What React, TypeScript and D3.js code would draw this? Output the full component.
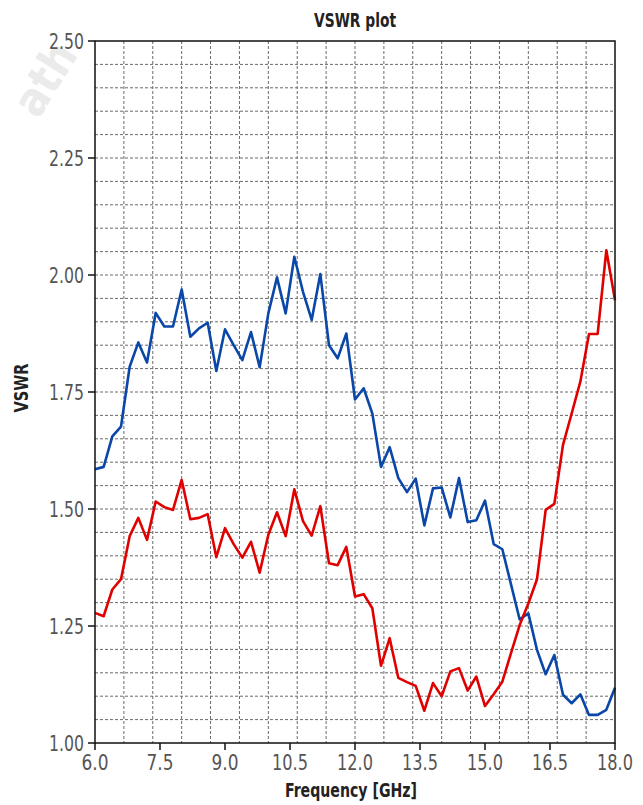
import React from 'react'
import * as d3 from 'd3'

// sweep points in GHz
const freqs = [
  6.0, 6.2, 6.4, 6.6, 6.8, 7.0, 7.2, 7.4, 7.6, 7.8,
  8.0, 8.2, 8.4, 8.6, 8.8, 9.0, 9.2, 9.4, 9.6, 9.8,
  10.0, 10.2, 10.4, 10.6, 10.8, 11.0, 11.2, 11.4, 11.6, 11.8,
  12.0, 12.2, 12.4, 12.6, 12.8, 13.0, 13.2, 13.4, 13.6, 13.8,
  14.0, 14.2, 14.4, 14.6, 14.8, 15.0, 15.2, 15.4, 15.6, 15.8,
  16.0, 16.2, 16.4, 16.6, 16.8, 17.0, 17.2, 17.4, 17.6, 17.8, 18.0
]

const vswrBlue = [
  1.585, 1.590, 1.655, 1.676, 1.804, 1.856, 1.813, 1.919, 1.890, 1.890,
  1.969, 1.868, 1.886, 1.898, 1.795, 1.884, 1.850, 1.818, 1.878, 1.803,
  1.918, 1.995, 1.918, 2.039, 1.964, 1.904, 2.002, 1.850, 1.822, 1.875,
  1.734, 1.758, 1.704, 1.590, 1.632, 1.566, 1.536, 1.565, 1.465, 1.544,
  1.546, 1.482, 1.566, 1.472, 1.476, 1.518, 1.425, 1.414, 1.339, 1.264,
  1.277, 1.199, 1.147, 1.188, 1.103, 1.085, 1.104, 1.060, 1.060, 1.071, 1.118
]

const vswrRed = [
  1.278, 1.271, 1.328, 1.350, 1.442, 1.481, 1.434, 1.516, 1.504, 1.498,
  1.562, 1.478, 1.481, 1.489, 1.397, 1.459, 1.425, 1.396, 1.430, 1.364,
  1.445, 1.493, 1.442, 1.542, 1.474, 1.443, 1.506, 1.384, 1.380, 1.419,
  1.313, 1.318, 1.288, 1.165, 1.224, 1.139, 1.130, 1.122, 1.069, 1.128,
  1.100, 1.153, 1.160, 1.112, 1.142, 1.079, 1.104, 1.131, 1.192, 1.252,
  1.298, 1.350, 1.498, 1.511, 1.637, 1.704, 1.772, 1.874, 1.874, 2.053, 1.946
]

const xTickValues = [6.0, 7.5, 9.0, 10.5, 12.0, 13.5, 15.0, 16.5, 18.0]
const yTickValues = [1.0, 1.25, 1.5, 1.75, 2.0, 2.25, 2.5]

const FONT = "'Liberation Sans Narrow', 'DejaVu Sans Condensed', 'Liberation Sans', sans-serif"

export default function App() {
  const width = 643
  const height = 805
  const margin = { top: 41, right: 28, bottom: 62, left: 95 }
  const innerW = width - margin.left - margin.right
  const innerH = height - margin.top - margin.bottom

  const x = d3.scaleLinear().domain([6, 18]).range([0, innerW])
  const y = d3.scaleLinear().domain([1, 2.5]).range([innerH, 0])

  // grid is finer than the labelled ticks: 18 columns, 30 rows
  const xGrid = d3.range(1, 18).map(k => 6 + (k * 12) / 18)
  const yGrid = d3.range(1, 30).map(k => 1 + k * 0.05)

  const line = d3.line<number>()
    .x((_, i) => x(freqs[i]))
    .y(v => y(v))

  return (
    <svg
      width={width}
      height={height}
      style={{ position: 'absolute', left: 0, top: 0, background: '#fff' }}
      fontFamily={FONT}
    >
      <text
        x={38}
        y={120}
        transform="rotate(-58 38 120)"
        fontSize={46}
        fontWeight="bold"
        fill="#ebebeb"
      >ath</text>

      <text x={margin.left + innerW / 2} y={27} textAnchor="middle" fontSize={19} fontWeight="bold" fill="#222"
        textLength={82} lengthAdjust="spacingAndGlyphs">VSWR plot</text>

      <g transform={`translate(${margin.left},${margin.top})`}>
        {xGrid.map((g, i) => (
          <line key={`xg${i}`} x1={x(g)} x2={x(g)} y1={0} y2={innerH} stroke="#6a6a6a" strokeWidth={1} strokeDasharray="3,2" />
        ))}
        {yGrid.map((g, i) => (
          <line key={`yg${i}`} x1={0} x2={innerW} y1={y(g)} y2={y(g)} stroke="#6a6a6a" strokeWidth={1} strokeDasharray="3,2" />
        ))}

        <path d={line(vswrBlue) || ''} fill="none" stroke="#0a47a8" strokeWidth={2.6} strokeLinejoin="round" />
        <path d={line(vswrRed) || ''} fill="none" stroke="#e00000" strokeWidth={2.6} strokeLinejoin="round" />

        <rect x={0} y={0} width={innerW} height={innerH} fill="none" stroke="#111" strokeWidth={1.5} />

        {xTickValues.map((t, i) => (
          <g key={`xt${i}`} transform={`translate(${x(t)},${innerH})`}>
            <line y1={0} y2={7} stroke="#111" strokeWidth={1.5} />
            <text y={27} textAnchor="middle" fontSize={21} fill="#555"
              textLength={t >= 10 ? 36 : 27} lengthAdjust="spacingAndGlyphs">{t.toFixed(1)}</text>
          </g>
        ))}
        {yTickValues.map((t, i) => (
          <g key={`yt${i}`} transform={`translate(0,${y(t)})`}>
            <line x1={-7} x2={0} stroke="#111" strokeWidth={1.5} />
            <text x={-11} dy="0.36em" textAnchor="end" fontSize={21} fill="#555"
              textLength={35} lengthAdjust="spacingAndGlyphs">{t.toFixed(2)}</text>
          </g>
        ))}
      </g>

      <text x={margin.left + innerW / 2 - 4} y={797} textAnchor="middle" fontSize={19} fontWeight="bold" fill="#222"
        textLength={132} lengthAdjust="spacingAndGlyphs">Frequency [GHz]</text>
      <text transform={`translate(28,${margin.top + innerH / 2 - 4}) rotate(-90)`} textAnchor="middle" fontSize={19} fontWeight="bold" fill="#222"
        textLength={49} lengthAdjust="spacingAndGlyphs">VSWR</text>
    </svg>
  )
}
